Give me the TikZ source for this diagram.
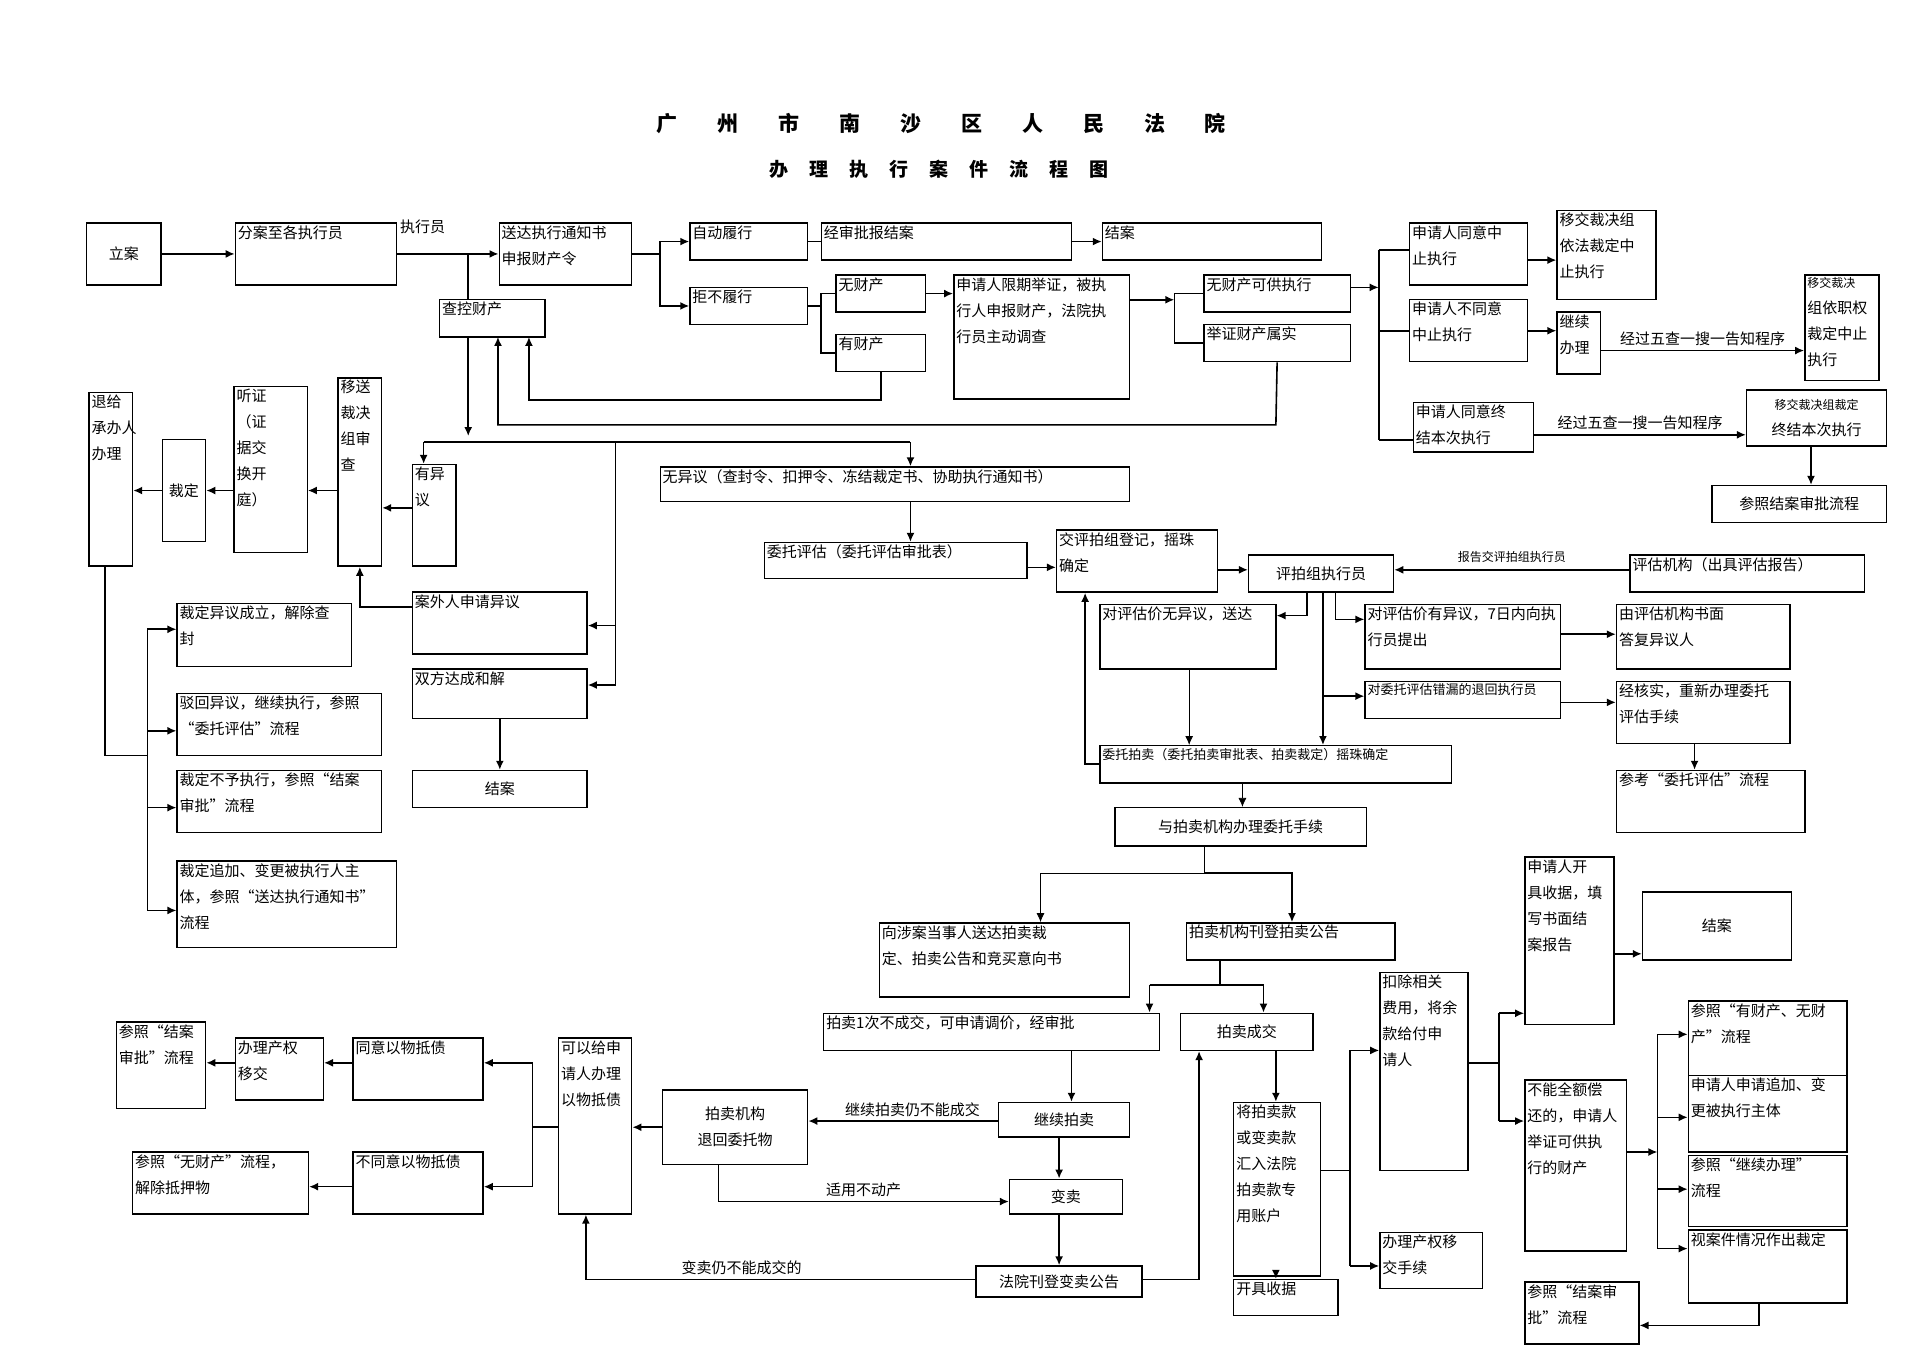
\documentclass[tikz,border=0pt]{standalone}
\usepackage{fontspec}
\setmainfont{Noto Sans CJK SC}
\usetikzlibrary{arrows.meta,fit}

\tikzset{
  box/.style={draw,line width=1.4pt,inner sep=0pt},
  txt/.style={align=left,inner sep=3pt,font=\fontsize{15}{26}\selectfont},
  ctxt/.style={align=center,inner sep=3pt,font=\fontsize{15}{26}\selectfont},
  lab/.style={inner sep=1pt,font=\fontsize{15}{18}\selectfont},
  link/.style={line width=1.6pt},
  go/.style={link,-{Latex[length=9pt,width=8pt]}},
  thin go/.style={line width=0.8pt,-{Latex[length=9pt,width=8pt]}}
}
% box with text at its top left corner
\newcommand\bx[6]{%
  \path (#2,#3) coordinate (#1-nw) (#4,#5) coordinate (#1-se);
  \node[box,fit=(#1-nw)(#1-se)] (#1) {};
  \node[txt,anchor=north west] at (#1.north west) {#6};}
% box with centred text
\newcommand\bxc[6]{%
  \path (#2,#3) coordinate (#1-nw) (#4,#5) coordinate (#1-se);
  \node[box,fit=(#1-nw)(#1-se)] (#1) {};
  \node[ctxt] at (#1.center) {#6};}

\begin{document}
\begin{tikzpicture}[x=1.239pt,y=-1.239pt]
  \useasboundingbox (0,0) rectangle (1550,1095);
  % title
  \node[font=\bfseries\fontsize{21}{24}\selectfont] (title1) at (760,100)
    {广\hspace{1.9em}州\hspace{1.9em}市\hspace{1.9em}南\hspace{1.9em}沙\hspace{1.9em}区\hspace{1.9em}人\hspace{1.9em}民\hspace{1.9em}法\hspace{1.9em}院};
  \node[font=\bfseries\fontsize{19}{24}\selectfont] (title2) at (758,137)
    {办\hspace{1.1em}理\hspace{1.1em}执\hspace{1.1em}行\hspace{1.1em}案\hspace{1.1em}件\hspace{1.1em}流\hspace{1.1em}程\hspace{1.1em}图};

  % top row
  \bxc{lian}{70}{180}{130}{230}{立案}
  \bx{fenan}{190}{180}{320}{230}{分案至各执行员}
  \bx{songda}{403}{180}{510}{230}{送达执行通知书\\申报财产令}
  \bx{chakong}{355}{242}{440}{272}{查控财产}
  \bx{zidong}{557}{180}{652}{210}{自动履行}
  \bx{jingshen}{663}{180}{865}{210}{经审批报结案}
  \bx{jiean1}{890}{180}{1067}{210}{结案}
  \bx{jubu}{557}{232}{652}{262}{拒不履行}
  \bx{wucai}{675}{222}{747}{252}{无财产}
  \bx{youcai}{675}{270}{747}{300}{有财产}
  \bx{xianqi}{770}{222}{912}{322}{申请人限期举证，被执\\行人申报财产，法院执\\行员主动调查}
  \bx{wukegong}{972}{222}{1090}{252}{无财产可供执行}
  \bx{shushi}{972}{262}{1090}{292}{举证财产属实}
  \bx{tongyi}{1138}{180}{1233}{230}{申请人同意中\\止执行}
  \bx{yijiao1}{1257}{170}{1337}{242}{移交裁决组\\依法裁定中\\止执行}
  \bx{butongyi}{1138}{242}{1233}{292}{申请人不同意\\中止执行}
  \bx{jixu1}{1257}{252}{1292}{302}{继续\\办理}
  \bx{yijiao2}{1457}{222}{1517}{307}{\fontsize{12}{21}\selectfont 移交裁决\\组依职权\\裁定中止\\执行}
  \bx{zhongjie}{1141}{325}{1238}{365}{申请人同意终\\结本次执行}
  \bxc{yijiao3}{1410}{315}{1523}{360}{\fontsize{12}{21}\selectfont 移交裁决组裁定\\终结本次执行}
  \bxc{lcshenpi1}{1382}{392}{1523}{422}{参照结案审批流程}

  % objection branch
  \bx{tuigei}{72}{317}{107}{457}{退给\\承办人\\办理}
  \bxc{caiding}{131}{355}{166}{437}{裁定}
  \bx{tingzheng}{189}{312}{248}{446}{听证\\（证\\据交\\换开\\庭）}
  \bx{yisong}{273}{305}{308}{457}{移送\\裁决\\组审\\查}
  \bx{youyi}{333}{375}{368}{457}{有异\\议}
  \bx{anwai}{333}{478}{474}{528}{案外人申请异议}
  \bx{hejie}{333}{540}{474}{580}{双方达成和解}
  \bxc{jiean2}{333}{622}{474}{652}{结案}
  \bx{yiyi1}{143}{487}{284}{538}{裁定异议成立，解除查\\封}
  \bx{yiyi2}{143}{560}{308}{610}{驳回异议，继续执行，参照\\“委托评估”流程}
  \bx{yiyi3}{143}{622}{308}{672}{裁定不予执行，参照“结案\\审批”流程}
  \bx{yiyi4}{143}{695}{320}{765}{裁定追加、变更被执行人主\\体，参照“送达执行通知书”\\流程}

  % assessment
  \bx{wuyiyi}{533}{377}{912}{405}{无异议（查封令、扣押令、冻结裁定书、协助执行通知书）}
  \bx{weituo}{617}{438}{829}{467}{委托评估（委托评估审批表）}
  \bx{jiaoping}{853}{428}{983}{478}{交评拍组登记，摇珠\\确定}
  \bxc{pingpai}{1008}{448}{1125}{478}{评拍组执行员}
  \bx{pinggu}{1316}{448}{1505}{478}{评估机构（出具评估报告）}
  \bx{duiwu}{888}{488}{1030}{540}{对评估价无异议，送达}
  \bx{duiyou}{1102}{488}{1260}{540}{对评估价有异议，7日内向执\\行员提出}
  \bx{dafu}{1305}{488}{1445}{540}{由评估机构书面\\答复异议人}
  \bx{cuolou}{1102}{550}{1260}{580}{\fontsize{13}{22}\selectfont 对委托评估错漏的退回执行员}
  \bx{hesh}{1305}{550}{1445}{600}{经核实，重新办理委托\\评估手续}
  \bx{cankao}{1305}{622}{1457}{672}{参考“委托评估”流程}
  \bx{weipai}{888}{602}{1172}{632}{\fontsize{13}{22}\selectfont 委托拍卖（委托拍卖审批表、拍卖裁定）摇珠确定}
  \bxc{yupm}{900}{652}{1103}{683}{与拍卖机构办理委托手续}

  % auction
  \bx{xiangshe}{710}{745}{912}{805}{向涉案当事人送达拍卖裁\\定、拍卖公告和竞买意向书}
  \bx{kandeng}{958}{745}{1126}{775}{拍卖机构刊登拍卖公告}
  \bx{paimai1}{665}{818}{936}{848}{拍卖1次不成交，可申请调价，经审批}
  \bxc{chengjiao}{953}{818}{1060}{848}{拍卖成交}
  \bxc{jixupm}{806}{890}{912}{918}{继续拍卖}
  \bxc{tuihui}{535}{880}{652}{940}{拍卖机构\\退回委托物}
  \bxc{bianmai}{815}{952}{906}{980}{变卖}
  \bxc{fayuan}{788}{1022}{922}{1047}{法院刊登变卖公告}
  \bx{huiru}{996}{890}{1066}{1030}{将拍卖款\\或变卖款\\汇入法院\\拍卖款专\\用账户}
  \bx{kaiju}{996}{1033}{1080}{1062}{开具收据}
  \bx{keyi}{451}{838}{510}{980}{可以给申\\请人办理\\以物抵债}
  \bx{tongyidz}{285}{838}{390}{888}{同意以物抵债}
  \bx{butongdz}{285}{930}{390}{980}{不同意以物抵债}
  \bx{banli1}{190}{838}{261}{888}{办理产权\\移交}
  \bx{lcshenpi2}{94}{825}{166}{895}{参照“结案\\审批”流程}
  \bx{wucailc}{107}{930}{249}{980}{参照“无财产”流程，\\解除抵押物}
  \bx{kouchu}{1114}{785}{1185}{945}{扣除相关\\费用，将余\\款给付申\\请人}
  \bx{banli2}{1114}{995}{1197}{1040}{办理产权移\\交手续}
  \bx{baogao}{1231}{692}{1303}{827}{申请人开\\具收据，填\\写书面结\\案报告}
  \bxc{jiean3}{1326}{720}{1446}{775}{结案}
  \bx{buneng}{1231}{872}{1313}{1010}{不能全额偿\\还的，申请人\\举证可供执\\行的财产}
  \bx{r1}{1363}{808}{1491}{868}{参照“有财产、无财\\产”流程}
  \bx{r2}{1363}{868}{1491}{930}{申请人申请追加、变\\更被执行主体}
  \bx{r3}{1363}{933}{1491}{990}{参照“继续办理”\\流程}
  \bx{r4}{1363}{993}{1491}{1052}{视案件情况作出裁定}
  \bx{lcshenpi3}{1231}{1035}{1323}{1085}{参照“结案审\\批”流程}

  % edges top
  \draw[go] (lian) -- (fenan);
  \draw[go] (fenan.east) -- (songda.west);
  \node[lab,anchor=south west] (zhixingyuan) at (322,190) {执行员};
  \draw[link] (378,205) -- (chakong.north -| 378,0);
  \draw[go] (songda.east) -- (533,205) |- (zidong.west);
  \draw[go] (533,205) |- (jubu.west);
  \draw[link] (zidong) -- (jingshen);
  \draw[go] (jingshen) -- (jiean1);
  \draw[link] (jubu.east) -- (663,247) |- (wucai.west);
  \draw[link] (663,247) |- (youcai.west);
  \draw[go] (wucai.east) -- (xianqi.west |- wucai.east);
  \draw[go] (youcai.south) -- (711,323) -| (427,272);
  \draw[go] (shushi.south) -- (1030,343) -| (402,272);
  \draw[go] (xianqi.east |- 0,242) -- (948,242);
  \draw[link] (948,242) |- (wukegong.west);
  \draw[link] (948,242) |- (shushi.west);
  \draw[go] (wukegong.east |- 0,232) -- (1113,232);
  \draw[link] (1113,202) -- (1113,355);
  \draw[link] (1113,202) -- (tongyi.west |- 0,202);
  \draw[link] (1113,267) -- (butongyi.west |- 0,267);
  \draw[link] (1113,355) -- (zhongjie.west |- 0,355);
  \draw[go] (tongyi.east |- 0,210) -- (yijiao1.west |- 0,210);
  \draw[go] (butongyi.east |- 0,267) -- (jixu1.west |- 0,267);
  \draw[go] (jixu1.east |- 0,283) -- node[lab,above=3pt]{经过五查一搜一告知程序} (yijiao2.west |- 0,283);
  \draw[go] (zhongjie.east |- 0,351) -- node[lab,above=3pt]{经过五查一搜一告知程序} (yijiao3.west |- 0,351);
  \draw[go] (yijiao3.south -| 1462,0) -- (lcshenpi1.north -| 1462,0);

  % edges objection
  \draw[go] (chakong.south -| 378,0) -- (378,352);
  \draw[link] (342,357) -- (735,357);
  \draw[go] (342,357) -- (youyi.north -| 342,0);
  \draw[go] (735,357) -- (wuyiyi.north -| 735,0);
  \draw[link] (497,357) -- (497,553);
  \draw[go] (497,505) -- (anwai.east |- 0,505);
  \draw[go] (497,553) -- (hejie.east |- 0,553);
  \draw[go] (hejie) -- (jiean2);
  \draw[go] (anwai.west |- 0,490) -| (yisong.south);
  \draw[go] (youyi.west |- 0,410) -- (yisong.east |- 0,410);
  \draw[go] (yisong.west |- 0,396) -- (tingzheng.east |- 0,396);
  \draw[go] (tingzheng.west |- 0,396) -- (caiding.east |- 0,396);
  \draw[go] (caiding.west |- 0,396) -- (tuigei.east |- 0,396);
  \draw[link] (tuigei.south -| 85,0) |- (119,610);
  \draw[link] (119,508) -- (119,735);
  \foreach \t/\yy in {yiyi1/508,yiyi2/590,yiyi3/652,yiyi4/735}
    \draw[go] (119,\yy) -- (\t.west |- 0,\yy);

  % edges assessment
  \draw[go] (wuyiyi.south -| 735,0) -- (weituo.north -| 735,0);
  \draw[go] (weituo.east |- 0,458) -- (jiaoping.west |- 0,458);
  \draw[go] (jiaoping.east |- 0,460) -- (pingpai.west |- 0,460);
  \draw[go] (pinggu.west |- 0,460) -- node[lab,above=5pt]{\fontsize{12}{14}\selectfont 报告交评拍组执行员} (pingpai.east |- 0,460);
  \draw[go] (pingpai.south -| 1055,0) |- (duiwu.east |- 0,497);
  \draw[go] (pingpai.south -| 1078,0) |- (duiyou.west |- 0,500);
  \draw[go] (pingpai.south -| 1068,0) -- (weipai.north -| 1068,0);
  \draw[go] (1068,562) -- (cuolou.west |- 0,562);
  \draw[go] (duiyou.east |- 0,512) -- (dafu.west |- 0,512);
  \draw[go] (cuolou.east |- 0,567) -- (hesh.west |- 0,567);
  \draw[go] (hesh.south -| 1368,0) -- (cankao.north -| 1368,0);
  \draw[thin go] (duiwu.south -| 960,0) -- (weipai.north -| 960,0);
  \draw[go] (weipai.west |- 0,617) -| (jiaoping.south -| 876,0);
  \draw[thin go] (weipai.south -| 1003,0) -- (yupm.north -| 1003,0);

  % edges auction
  \draw[thin go] (yupm.south -| 972,0) -- (972,705) -| (xiangshe.north -| 840,0);
  \draw[go] (972,705) -| (kandeng.north -| 1043,0);
  \draw[link] (kandeng.south -| 985,0) -- (985,795);
  \draw[go] (928,795) -- (paimai1.north -| 928,0);
  \draw[go] (928,795) -- (1020,795) -- (chengjiao.north -| 1020,0);
  \draw[go] (paimai1.south -| 865,0) -- (jixupm.north -| 865,0);
  \draw[go] (jixupm.west |- 0,905) -- node[lab,above=2pt,pos=0.45]{继续拍卖仍不能成交} (tuihui.east |- 0,905);
  \draw[go] (jixupm.south -| 855,0) -- (bianmai.north -| 855,0);
  \draw[go] (tuihui.south -| 580,0) |- node[lab,above=3pt,pos=0.75]{适用不动产} (bianmai.west |- 0,970);
  \draw[go] (bianmai.south -| 855,0) -- (fayuan.north -| 855,0);
  \draw[go] (fayuan.west |- 0,1033) -| node[lab,above=3pt,pos=0.3]{变卖仍不能成交的} (keyi.south -| 473,0);
  \draw[go] (fayuan.east |- 0,1033) -| (chengjiao.south -| 968,0);
  \draw[go] (chengjiao.south -| 1030,0) -- (huiru.north -| 1030,0);
  \draw[go] (huiru.south -| 1030,0) -- (kaiju.north -| 1030,0);
  \draw[link] (huiru.east |- 0,945) -- (1090,945);
  \draw[go] (1090,848) |- (kouchu.west |- 0,848) ;
  \draw[link] (1090,848) -- (1090,1022);
  \draw[go] (1090,1022) -- (banli2.west |- 0,1022);
  \draw[link] (kouchu.east |- 0,858) -- (1210,858);
  \draw[go] (1210,818) -- (baogao.west |- 0,818);
  \draw[link] (1210,818) -- (1210,905);
  \draw[go] (1210,905) -- (buneng.west |- 0,905);
  \draw[go] (baogao.east |- 0,770) -- (jiean3.west |- 0,770);
  \draw[go] (buneng.east |- 0,930) -- (1338,930);
  \draw[link] (1338,835) -- (1338,1008);
  \foreach \t/\yy in {r1/835,r2/902,r3/960,r4/1008}
    \draw[go] (1338,\yy) -- (\t.west |- 0,\yy);
  \draw[go] (r4.south -| 1420,0) |- (lcshenpi3.east |- 0,1070);
  \draw[go] (tuihui.west |- 0,910) -- (keyi.east |- 0,910);
  \draw[link] (keyi.west |- 0,910) -- (430,910);
  \draw[link] (430,858) -- (430,958);
  \draw[go] (430,858) -- (tongyidz.east |- 0,858);
  \draw[go] (430,958) -- (butongdz.east |- 0,958);
  \draw[go] (tongyidz.west |- 0,858) -- (banli1.east |- 0,858);
  \draw[go] (banli1.west |- 0,858) -- (lcshenpi2.east |- 0,858);
  \draw[go] (butongdz.west |- 0,958) -- (wucailc.east |- 0,958);
\end{tikzpicture}
\end{document}
